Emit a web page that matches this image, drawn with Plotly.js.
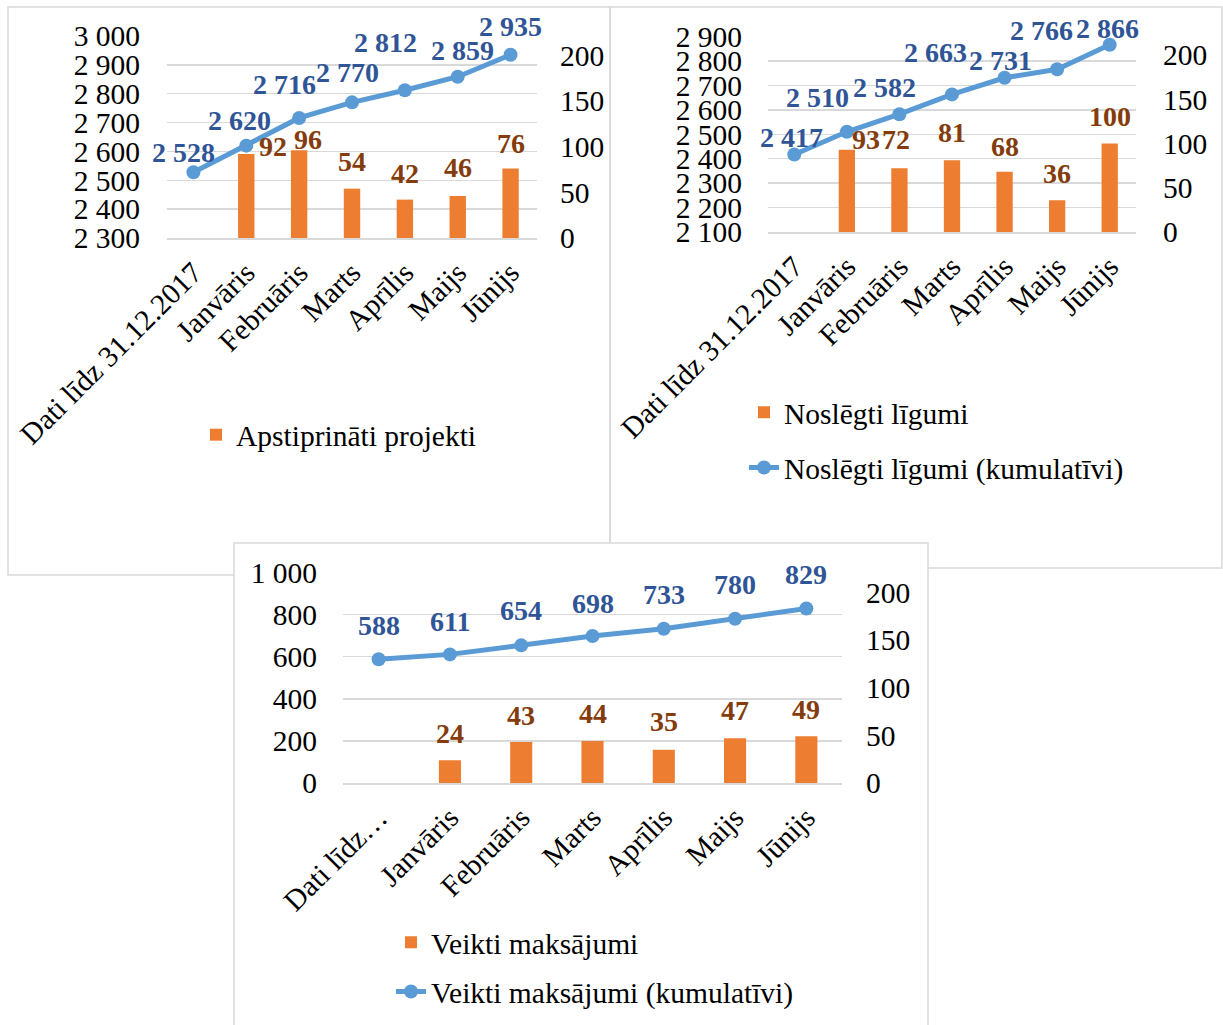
<!DOCTYPE html>
<html><head><meta charset="utf-8">
<script src="https://cdn.plot.ly/plotly-3.0.1.min.js"></script>
<style>html,body{margin:0;padding:0;background:#fff}#chart{width:1223px;height:1025px}</style>
</head><body><div id="chart"></div>
<script>
// ---- data ----
const categories = ["Dati līdz 31.12.2017","Janvāris","Februāris","Marts","Aprīlis","Maijs","Jūnijs"];
const categoryLabels3 = ["Dati līdz…","Janvāris","Februāris","Marts","Aprīlis","Maijs","Jūnijs"];

const approvedName = "Apstiprināti projekti";
const approvedMonthly = [null, 92, 96, 54, 42, 46, 76];
const approvedCumulative = [2528, 2620, 2716, 2770, 2812, 2859, 2935];

const contractsName = "Noslēgti līgumi";
const contractsCumName = "Noslēgti līgumi (kumulatīvi)";
const contractsMonthly = [null, 93, 72, 81, 68, 36, 100];
const contractsCumulative = [2417, 2510, 2582, 2663, 2731, 2766, 2866];

const paymentsName = "Veikti maksājumi";
const paymentsCumName = "Veikti maksājumi (kumulatīvi)";
const paymentsMonthly = [null, 24, 43, 44, 35, 47, 49];
const paymentsCumulative = [588, 611, 654, 698, 733, 780, 829];

// ---- label nudges (style, px) ----
const lineDx1 = [-10, -7, -15, -5, -19, 5, 0];
const lineDy1 = [-20, -25, -33, -30, -48, -26, -28];
const barDx1 = [0, 27, 9, 0, 0, 0, 0];
const barDy1 = [0, -7, -11, -27, -26, -28, -25];
const lineDx2 = [-3, -29, -15, -17, -4, -16, -2];
const lineDy2 = [-17, -34, -27, -42, -17, -39, -16];
const barDx2 = [0, 19, -3, 0, 0, 0, 0];
const barDy2 = [0, -10, -29, -28, -25, -27, -27];
const lineDx3 = [0, 0, 0, 0, 0, 0, 0];
const lineDy3 = [-34, -33, -35, -33, -34, -34, -34];
const barDx3 = [0, 0, 0, 0, 0, 0, 0];
const barDy3 = [0, -27, -27, -28, -28, -28, -27];

// ---- styles ----
const W = 1223, H = 1025;
const FONT = "Liberation Serif, 'Times New Roman', serif";
const TICK_SIZE = 29.5;
const ORANGE = '#ED7D31', BLUE = '#5B9BD5', BLUE_TXT = '#2F5597', BROWN_TXT = '#843C0C';
const GRID = '#D9D9D9';
const px = v => v / W, py = v => 1 - v / H;
const fmt = v => String(v).replace(/\B(?=(\d{3})+(?!\d))/g, ' ');

function leftAxis(domain, range, dtick, anchor, ticklen) {
  return {domain, range, dtick, tick0: range[0], anchor, showgrid: true, gridcolor: GRID, gridwidth: 1.5,
    zeroline: false, showline: false, ticks: 'outside', ticklen, tickcolor: 'rgba(0,0,0,0)',
    separatethousands: true, tickfont: {family: FONT, size: TICK_SIZE, color: '#000'}, automargin: false, fixedrange: true};
}
function rightAxis(overlaying, anchor, range, ticklen) {
  return {overlaying, anchor, side: 'right', range, dtick: 50, tick0: 0, showgrid: false, zeroline: false,
    showline: false, ticks: 'outside', ticklen, tickcolor: 'rgba(0,0,0,0)',
    tickfont: {family: FONT, size: TICK_SIZE, color: '#000'}, automargin: false, fixedrange: true};
}
function catAxis(domain, anchor, ticktext) {
  return {domain, anchor, type: 'category', range: [-0.5, 6.5], showline: true, linecolor: GRID, linewidth: 1.5,
    showgrid: false, zeroline: false, ticks: 'outside', ticklen: 4, tickcolor: 'rgba(0,0,0,0)', tickangle: -45,
    tickmode: 'array', tickvals: categories, ticktext, tickfont: {family: FONT, size: TICK_SIZE, color: '#000'},
    automargin: false, fixedrange: true};
}
function barTrace(name, y, xa, ya, legend, show) {
  return {type: 'bar', name, x: categories, y, xaxis: xa, yaxis: ya, width: 0.31,
    marker: {color: ORANGE}, legend, showlegend: show, legendgroup: name, hoverinfo: 'skip'};
}
function lineTrace(name, y, xa, ya, legend, show) {
  return {type: 'scatter', mode: 'lines+markers', name, x: categories, y, xaxis: xa, yaxis: ya,
    line: {color: BLUE, width: 5}, marker: {color: BLUE, size: 14}, legend, showlegend: show,
    legendgroup: name, hoverinfo: 'skip'};
}
function labels(xref, yref, values, dx, dy, color) {
  const out = [];
  values.forEach((v, i) => {
    if (v === null) return;
    out.push({xref, yref, x: categories[i], y: v, text: '<b>' + fmt(v) + '</b>', showarrow: false,
      xanchor: 'center', yanchor: 'middle', xshift: dx[i], yshift: -dy[i],
      font: {family: FONT, size: 28, color}});
  });
  return out;
}

const data = [
  barTrace(approvedName, approvedMonthly, 'x', 'y2', 'legend', true),
  lineTrace(approvedName + ' (kumulatīvi)', approvedCumulative, 'x', 'y', 'legend', false),
  barTrace(contractsName, contractsMonthly, 'x2', 'y4', 'legend2', true),
  lineTrace(contractsCumName, contractsCumulative, 'x2', 'y3', 'legend2', true),
  barTrace(paymentsName, paymentsMonthly, 'x3', 'y6', 'legend3', true),
  lineTrace(paymentsCumName, paymentsCumulative, 'x3', 'y5', 'legend3', true)
];

const legendFont = {family: FONT, size: TICK_SIZE, color: '#000'};
const border = (x0, x1, y0, y1, fill) => ({type: 'rect', xref: 'paper', yref: 'paper', layer: 'below',
  x0: px(x0), x1: px(x1), y0: py(y1), y1: py(y0), line: {color: GRID, width: 1.5}, fillcolor: fill});

const layout = {
  width: W, height: H, margin: {l: 0, r: 0, t: 0, b: 0, pad: 0}, autosize: false,
  paper_bgcolor: '#fff', plot_bgcolor: 'rgba(0,0,0,0)', separators: '. ', hovermode: false, barmode: 'group',
  xaxis: catAxis([px(167), px(537)], 'y', categories),
  yaxis: leftAxis([py(238), py(36)], [2300, 3000], 100, 'x', 20),
  yaxis2: rightAxis('y', 'x', [0, 221], 16),
  xaxis2: catAxis([px(768), px(1136)], 'y3', categories),
  yaxis3: leftAxis([py(232), py(36.5)], [2100, 2900], 100, 'x2', 19),
  yaxis4: rightAxis('y3', 'x2', [0, 221], 20),
  xaxis3: catAxis([px(343), px(842)], 'y5', categoryLabels3),
  yaxis5: leftAxis([py(783), py(572.5)], [0, 1000], 200, 'x3', 19),
  yaxis6: rightAxis('y5', 'x3', [0, 221], 17),
  legend: {x: px(196), xanchor: 'left', y: py(435), yanchor: 'middle', font: legendFont, bgcolor: 'rgba(0,0,0,0)'},
  legend2: {x: px(744), xanchor: 'left', y: py(440), yanchor: 'middle', font: legendFont, bgcolor: 'rgba(0,0,0,0)', tracegroupgap: 14, traceorder: 'grouped'},
  legend3: {x: px(391), xanchor: 'left', y: py(967), yanchor: 'middle', font: legendFont, bgcolor: 'rgba(0,0,0,0)', tracegroupgap: 8, traceorder: 'grouped'},
  shapes: [
    border(8, 610, 7, 575, 'rgba(0,0,0,0)'),
    border(610, 1222, 7, 568, 'rgba(0,0,0,0)'),
    border(234, 928, 543, 1040, '#fff')
  ],
  annotations: [].concat(
    labels('x', 'y', approvedCumulative, lineDx1, lineDy1, BLUE_TXT),
    labels('x', 'y2', approvedMonthly, barDx1, barDy1, BROWN_TXT),
    labels('x2', 'y3', contractsCumulative, lineDx2, lineDy2, BLUE_TXT),
    labels('x2', 'y4', contractsMonthly, barDx2, barDy2, BROWN_TXT),
    labels('x3', 'y5', paymentsCumulative, lineDx3, lineDy3, BLUE_TXT),
    labels('x3', 'y6', paymentsMonthly, barDx3, barDy3, BROWN_TXT)
  )
};

Plotly.newPlot('chart', data, layout, {staticPlot: true, displayModeBar: false});
</script></body></html>
